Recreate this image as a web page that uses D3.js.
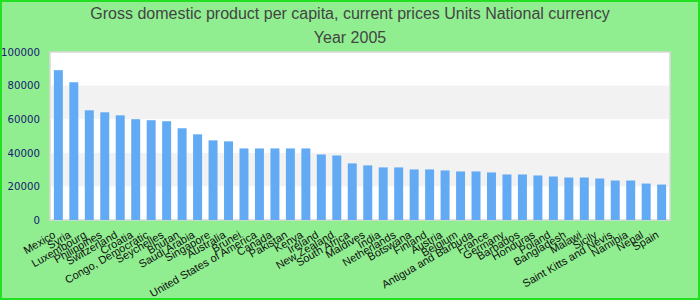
<!DOCTYPE html>
<html><head><meta charset="utf-8">
<script src="https://cdn.jsdelivr.net/npm/d3@7"></script>
<style>body{margin:0;padding:0;background:#fff}svg{display:block}</style>
</head><body>
<svg id="chart" width="700" height="300"></svg>
<script>
const categories = ["Mexico","Syria","Luxembourg","Philippines","Switzerland","Croatia","Congo, Democratic","Seychelles","Bhutan","Saudi Arabia","Singapore","Australia","Brunei","United States of America","Canada","Pakistan","Kenya","Ireland","New Zealand","South Africa","Maldives","India","Netherlands","Botswana","Finland","Austria","Belgium","Antigua and Barbuda","France","Germany","Barbados","Honduras","Poland","Bangladesh","Malawi","Sicily","Saint Kitts and Nevis","Namibia","Nepal","Spain"];
const values = [89200,82000,65300,64100,62300,60000,59400,58800,54600,51000,47400,46800,42600,42600,42600,42600,42600,39000,38400,33700,32500,31300,31300,30100,30100,29500,28900,28900,28300,27100,27100,26500,25900,25300,25300,24700,23500,23500,21700,21100];
const yTicks = [0,20000,40000,60000,80000,100000];
const titleLines = ["Gross domestic product per capita, current prices Units National currency","Year 2005"];

const svg = d3.select("#chart");
const W = 700, H = 300;
const m = {left:50, right:30, top:52, bottom:80};

svg.append("rect").attr("x",1).attr("y",1).attr("width",W-2).attr("height",H-2)
  .attr("fill","#90ee90").attr("stroke","#22e022").attr("stroke-width",2);

const x = d3.scaleBand().domain(categories).range([m.left, W-m.right]).paddingInner(0.42).paddingOuter(0.25);
const y = d3.scaleLinear().domain([0,100000]).range([H-m.bottom, m.top]);

const g = svg.append("g");
g.append("rect").attr("x",m.left).attr("y",m.top).attr("width",W-m.left-m.right).attr("height",H-m.top-m.bottom)
  .attr("fill","#fff").attr("stroke","#d8d8d8").attr("stroke-width",1.5);
for (let i=0;i<yTicks.length-1;i++){
  if (i%2===1){
    g.append("rect").attr("x",m.left+1).attr("width",W-m.left-m.right-2)
      .attr("y",y(yTicks[i+1])).attr("height",y(yTicks[i])-y(yTicks[i+1]))
      .attr("fill","#f2f2f2");
  }
}

svg.append("g").selectAll("rect").data(values).join("rect")
  .attr("x",(d,i)=>x(categories[i])).attr("width",x.bandwidth())
  .attr("y",d=>y(d)).attr("height",d=>y(0)-y(d)).attr("fill","#62aaf4");

const ya = svg.append("g").attr("transform",`translate(${m.left},0)`)
  .call(d3.axisLeft(y).tickValues(yTicks).tickSize(0).tickPadding(10).tickFormat(d3.format("d")));
ya.select(".domain").remove();
ya.selectAll("text").attr("fill","#191970").attr("font-family","DejaVu Sans, sans-serif").attr("font-size",10.2);

const xa = svg.append("g").attr("transform",`translate(0,${y(0)})`)
  .call(d3.axisBottom(x).tickSize(0).tickPadding(0));
xa.select(".domain").remove();
xa.selectAll("text").attr("fill","#111").attr("font-family","Liberation Sans, Arial, sans-serif").attr("font-size",11)
  .attr("text-anchor","end").attr("dx","0").attr("dy","0")
  .attr("transform","translate(-2,17) rotate(-30)");

svg.append("g").selectAll("text").data(titleLines).join("text")
  .attr("x",W/2).attr("y",(d,i)=>19+i*24).attr("text-anchor","middle")
  .attr("font-family","Liberation Sans, Arial, sans-serif").attr("font-size",16).attr("fill","#444")
  .text(d=>d);
</script>
</body></html>
